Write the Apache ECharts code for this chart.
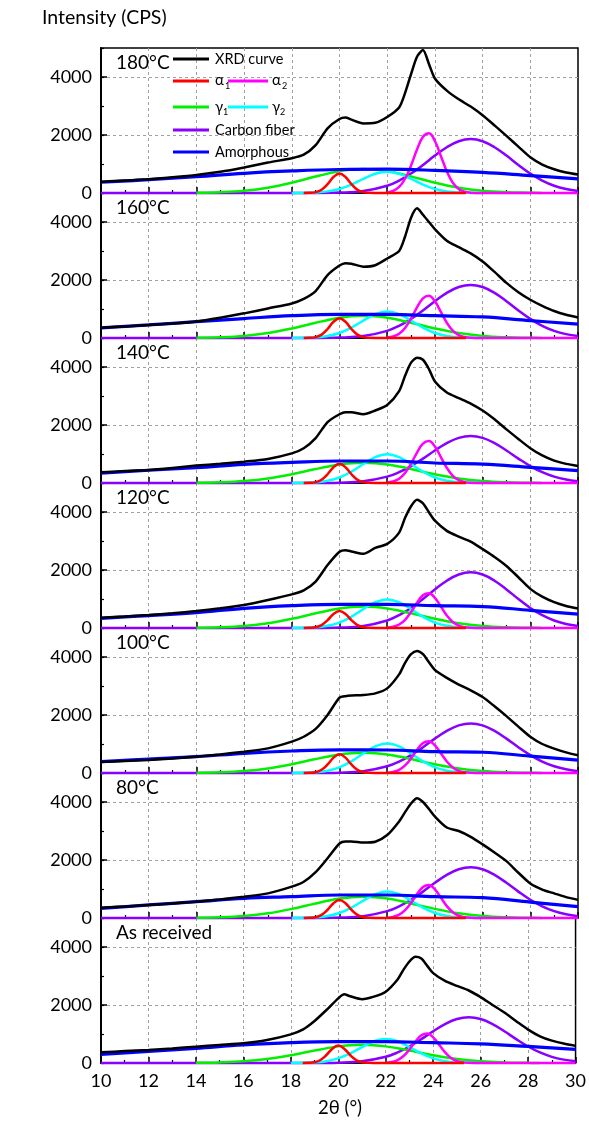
<!DOCTYPE html>
<html><head><meta charset="utf-8">
<script src="https://cdn.jsdelivr.net/npm/echarts@6/dist/echarts.min.js"></script>
<style>html,body{margin:0;padding:0;background:#fff}#c{width:589px;height:1124px}</style>
</head><body><div id="c"></div>
<script>
const panelLabels = ['180°C','160°C','140°C','120°C','100°C','80°C','As received'];
const yTickLabels = ['0','2000','4000'];

// XRD curve (black)
const xXRD = [10,11,12,13,14,15,16,17,18,18.5,19,19.5,20,20.25,20.5,21,21.5,22,22.5,22.75,23,23.25,23.5,23.75,24,24.5,25,25.5,26,26.5,27,27.5,28,28.5,29,29.5,30];
const xrd180 = [390,430,470,540,620,730,880,1050,1200,1320,1650,2230,2550,2600,2530,2400,2420,2620,2950,3450,4100,4700,4930,4450,3950,3530,3230,2980,2680,2330,1970,1600,1230,980,820,710,640];
const xrd160 = [350,400,450,500,570,700,850,1020,1190,1350,1620,2170,2500,2580,2560,2460,2510,2740,3000,3500,4150,4470,4250,4000,3750,3350,3130,2920,2640,2280,1900,1580,1320,1110,930,800,710];
const xrd140 = [368,410,450,520,600,660,735,830,1020,1200,1550,2100,2370,2440,2440,2370,2500,2690,3170,3700,4150,4320,4250,3930,3500,3120,2930,2740,2500,2200,1850,1520,1200,950,770,660,590];
const xrd120 = [356,400,448,510,586,680,793,965,1160,1300,1600,2170,2630,2680,2640,2560,2760,2900,3290,3800,4200,4420,4300,3990,3700,3350,3150,2980,2720,2450,2140,1750,1350,1080,890,760,670];
const xrd100 = [380,410,448,500,563,640,735,850,1080,1250,1520,2000,2600,2650,2670,2690,2746,2918,3400,3800,4100,4210,4100,3820,3550,3280,3050,2850,2620,2300,1960,1600,1250,1000,840,710,610];
const xrd80  = [356,400,448,500,563,640,735,850,1080,1250,1580,2060,2570,2640,2640,2600,2630,2860,3330,3650,3950,4130,4000,3760,3500,3120,3000,2800,2540,2260,1960,1560,1190,980,850,720,625];
const xrdAR  = [368,410,448,500,563,620,678,793,988,1150,1450,1827,2229,2367,2300,2200,2287,2459,2880,3220,3500,3660,3600,3350,3100,2830,2660,2500,2270,2000,1740,1440,1150,920,770,670,590];

// Amorphous (blue)
const xAmo = [10,12,14,16,18,20,22,24,26,28,30];
const amo180 = [370,460,560,680,760,810,820,780,710,600,490];
const amo160 = [350,450,563,670,770,815,815,770,726,600,480];
const amo140 = [340,440,529,643,712,758,758,690,650,540,425];
const amo120 = [333,430,529,678,770,816,816,770,740,610,480];
const amo100 = [390,480,563,678,758,800,793,735,715,580,445];
const amo80  = [333,450,563,678,735,793,793,735,700,550,390];
const amoAR  = [300,400,505,620,700,735,735,700,660,570,470];

// alpha1 (red)
const xA1 = [18.5,18.75,19,19.25,19.5,19.75,20,20.25,20.5,20.75,21,21.25,21.5,25.3];
const a1_180 = [0,5,29,115,307,551,670,551,307,115,29,5,0,0];
const a1_160 = [0,5,30,117,311,560,680,560,311,117,30,5,0,0];
const a1_140 = [0,5,29,114,302,543,660,543,302,114,29,5,0,0];
const a1_120 = [0,5,26,101,270,486,590,486,270,101,26,5,0,0];
const a1_100 = [0,5,28,111,294,529,643,529,294,111,28,5,0,0];
const a1_80  = [0,5,27,107,284,510,620,510,284,107,27,5,0,0];
const a1_AR  = [0,5,26,103,275,494,600,494,275,103,26,5,0,0];

// alpha2 (magenta)
const xA2 = [22,22.25,22.5,22.75,23,23.25,23.5,23.75,24,24.25,24.5,24.75,25,25.25,25.5,26,30];
const a2_180 = [21,72,207,491,948,1499,1942,2062,1793,1277,745,356,140,45,12,0,0];
const a2_160 = [15,51,146,346,669,1057,1369,1454,1264,901,526,251,99,32,8,0,0];
const a2_140 = [15,51,145,344,664,1050,1360,1444,1256,895,522,249,98,31,8,0,0];
const a2_120 = [12,42,120,284,550,869,1126,1195,1039,740,432,206,81,26,7,0,0];
const a2_100 = [11,39,110,261,504,796,1032,1096,953,679,396,189,74,24,6,0,0];
const a2_80  = [11,40,114,270,522,825,1069,1135,987,703,410,196,77,25,6,0,0];
const a2_AR  = [10,36,102,242,467,738,957,1016,883,629,367,175,69,22,6,0,0];

// gamma1 (green)
const xG1 = [14,15,16,17,18,19,20,20.5,21,21.5,22,22.5,23,24,25,26,27,28,28.5];
const g1_180 = [8,28,78,183,354,569,755,811,830,811,755,671,569,354,183,78,28,8,0];
const g1_160 = [7,26,72,169,329,527,701,752,770,752,701,622,527,329,169,72,26,7,0];
const g1_140 = [7,23,66,154,299,480,637,684,700,684,637,566,480,299,154,66,23,7,0];
const g1_120 = [7,25,70,163,316,507,673,723,740,723,673,598,507,316,163,70,25,7,0];
const g1_100 = [7,23,66,154,299,480,637,684,700,684,637,566,480,299,154,66,23,7,0];
const g1_80  = [7,24,69,162,314,503,669,718,735,718,669,594,503,314,162,69,24,7,0];
const g1_AR  = [6,21,59,139,269,432,573,616,630,616,573,509,432,269,139,59,21,6,0];

// gamma2 (cyan)
const xG2 = [18,18.5,19,19.5,20,20.5,21,21.5,22,22.5,23,23.5,24,24.5,25,25.5,26];
const g2_180 = [1,4,18,56,140,290,486,663,735,663,486,290,140,56,18,4,1];
const g2_160 = [1,5,22,69,174,359,602,821,910,821,602,359,174,69,22,5,1];
const g2_140 = [1,6,24,75,189,391,654,893,990,893,654,391,189,75,24,6,1];
const g2_120 = [1,6,24,75,188,389,651,888,985,888,651,389,188,75,24,6,1];
const g2_100 = [1,6,24,78,195,403,674,920,1020,920,674,403,195,78,24,6,1];
const g2_80  = [1,5,22,69,174,359,602,821,910,821,602,359,174,69,22,5,1];
const g2_AR  = [1,5,20,63,159,328,549,749,830,749,549,328,159,63,20,5,1];

// Carbon fiber (purple)
const xCF = [10,19,20,21,22,22.5,23,23.5,24,24.5,25,25.5,26,26.5,27,27.5,28,28.5,29,29.5,30];
const cf180 = [0,0,13,68,251,428,670,967,1289,1579,1786,1860,1786,1579,1289,967,670,428,251,137,68];
const cf160 = [0,0,13,67,247,421,659,952,1268,1554,1757,1830,1757,1554,1268,952,659,421,247,134,67];
const cf140 = [0,0,12,59,219,373,583,842,1123,1375,1555,1620,1555,1375,1123,842,583,373,219,119,59];
const cf120 = [0,0,14,70,259,442,691,998,1331,1630,1843,1920,1843,1630,1331,998,691,442,259,141,70];
const cf100 = [0,0,12,63,231,393,616,889,1185,1452,1642,1710,1642,1452,1185,889,616,393,231,126,63];
const cf80  = [0,0,13,64,236,403,630,910,1213,1486,1680,1750,1680,1486,1213,910,630,403,236,128,64];
const cfAR  = [0,0,11,58,213,363,569,822,1095,1341,1517,1580,1517,1341,1095,822,569,363,213,116,58];

const panels = [
  {xrd:xrd180, amo:amo180, a1:a1_180, a2:a2_180, g1:g1_180, g2:g2_180, cf:cf180},
  {xrd:xrd160, amo:amo160, a1:a1_160, a2:a2_160, g1:g1_160, g2:g2_160, cf:cf160},
  {xrd:xrd140, amo:amo140, a1:a1_140, a2:a2_140, g1:g1_140, g2:g2_140, cf:cf140},
  {xrd:xrd120, amo:amo120, a1:a1_120, a2:a2_120, g1:g1_120, g2:g2_120, cf:cf120},
  {xrd:xrd100, amo:amo100, a1:a1_100, a2:a2_100, g1:g1_100, g2:g2_100, cf:cf100},
  {xrd:xrd80,  amo:amo80,  a1:a1_80,  a2:a2_80,  g1:g1_80,  g2:g2_80,  cf:cf80},
  {xrd:xrdAR,  amo:amoAR,  a1:a1_AR,  a2:a2_AR,  g1:g1_AR,  g2:g2_AR,  cf:cfAR}
];

const FONT = 'Lato, "DejaVu Sans", sans-serif';
const C = {xrd:'#000000', a1:'#ff0000', a2:'#ff00ff', g1:'#00f000', g2:'#00ffff', cf:'#8800ff', amo:'#0000ff'};
const pair = (xs, ys) => xs.map((x, j) => [x, ys[j]]);

const grids = [], xAxes = [], yAxes = [], series = [];
const TOP0 = 48, PH = 145;
const dashed = {show:true, showMinLine:false, showMaxLine:false, lineStyle:{color:'#a0a0a0', width:1, type:[3,3]}};
panels.forEach((p, i) => {
  grids.push({left:101, right:11, top:TOP0 + PH*i, height:PH, show:true, borderColor:'#000', borderWidth:1.5, backgroundColor:'transparent'});
  xAxes.push({
    type:'value', gridIndex:i, min:10, max:30, interval:2,
    axisLine:{show:true, onZero:false, lineStyle:{color:'#000', width:1.5}},
    axisTick:{show:true, inside:true, length:6, lineStyle:{color:'#000', width:1.5}},
    minorTick:{show:true, splitNumber:2, length:3, lineStyle:{color:'#000', width:1.2}},
    axisLabel:{show:i === panels.length-1, color:'#000', fontSize:18, fontFamily:FONT, margin:9},
    splitLine:dashed
  });
  yAxes.push({
    type:'value', gridIndex:i, min:0, max:5000, interval:2000,
    axisLine:{show:true, lineStyle:{color:'#000', width:2}},
    axisTick:{show:true, inside:true, length:6, lineStyle:{color:'#000', width:1.5}},
    axisLabel:{show:true, showMaxLabel:false, color:'#000', fontSize:18, fontFamily:FONT, margin:9,
      formatter: v => yTickLabels.includes(String(v)) ? String(v) : ''},
    splitLine:dashed
  });
  yAxes.push({
    type:'value', gridIndex:i, min:0, max:5000, interval:1000, position:'left',
    axisLine:{show:false},
    axisTick:{show:true, inside:true, length:3, lineStyle:{color:'#000', width:1.2}},
    axisLabel:{show:false}, splitLine:{show:false}
  });
  const mk = (name, xs, ys, color, w, sm) => ({
    type:'line', name, xAxisIndex:i, yAxisIndex:2*i, data:pair(xs, ys),
    showSymbol:false, symbol:'none', smooth:sm, clip:false, silent:true,
    lineStyle:{color, width:w}
  });
  series.push(mk('Carbon fiber', xCF, p.cf, C.cf, 2.5, 0.4));
  series.push(mk('γ1', xG1, p.g1, C.g1, 2.5, 0.4));
  series.push(mk('γ2', xG2, p.g2, C.g2, 2.5, 0.4));
  series.push(mk('α2', xA2, p.a2, C.a2, 2.5, 0.4));
  series.push(mk('α1', xA1, p.a1, C.a1, 2.5, 0.4));
  series.push(mk('Amorphous', xAmo, p.amo, C.amo, 3.2, 0.4));
  series.push(mk('XRD curve', xXRD, p.xrd, C.xrd, 2.5, 0.25));
});

const graphic = [];
const txt = (x, y, text, size, extra) => graphic.push({type:'text', x, y, z:100,
  style:Object.assign({text, fontSize:size, fontFamily:FONT, fill:'#000', verticalAlign:'middle', align:'left'}, extra||{})});
const ln = (x1, x2, y, color) => graphic.push({type:'line', z:100, shape:{x1, y1:y, x2, y2:y}, style:{stroke:color, lineWidth:3}});

txt(42, 18, 'Intensity (CPS)', 19.5);
txt(340, 1108, '2θ (°)', 18.5, {align:'center'});
panelLabels.forEach((t, i) => txt(116, 63 + PH*i, t, 19));

// legend
ln(173, 209, 59, C.xrd);  txt(215, 59, 'XRD curve', 14.5);
ln(173, 209, 81, C.a1);   txt(215, 80, 'α', 15);  txt(225, 86, '1', 9);
ln(228, 268, 81, C.a2);   txt(272, 80, 'α', 15);  txt(282, 86, '2', 9);
ln(173, 209, 107, C.g1);  txt(215, 107, 'γ', 15); txt(223, 112, '1', 9);
ln(228, 268, 107, C.g2);  txt(272, 107, 'γ', 15); txt(280, 112, '2', 9);
ln(173, 209, 130, C.cf);  txt(215, 130, 'Carbon fiber', 14.5);
ln(173, 209, 152, C.amo); txt(215, 152, 'Amorphous', 14.5);

const chart = echarts.init(document.getElementById('c'), null, {renderer:'canvas'});
chart.setOption({
  animation:false, backgroundColor:'#fff',
  textStyle:{fontFamily:FONT},
  grid:grids, xAxis:xAxes, yAxis:yAxes, series, graphic
});
</script>
</body></html>
